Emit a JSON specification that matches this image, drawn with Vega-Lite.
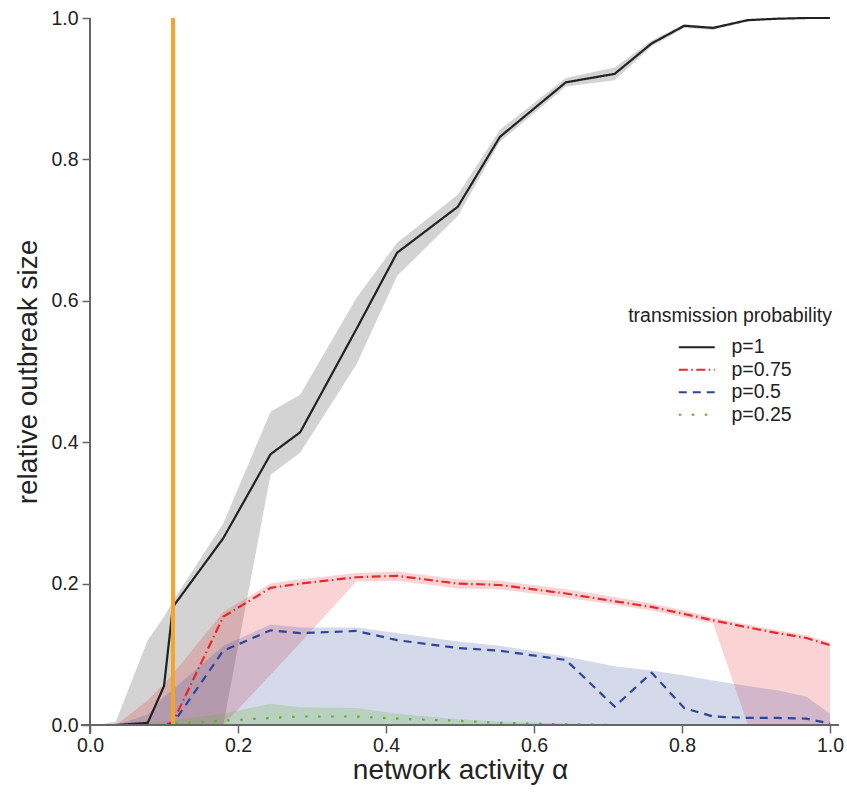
{
  "$schema": "https://vega.github.io/schema/vega-lite/v6.json",
  "width": 740,
  "height": 707,
  "autosize": "none",
  "padding": {"left": 90, "top": 18, "right": 17, "bottom": 68},
  "config": {
    "font": "Liberation Sans",
    "view": {"stroke": null},
    "axis": {
      "domain": false,
      "grid": false,
      "tickSize": 8,
      "tickColor": "#666666",
      "tickWidth": 1.5,
      "labelFontSize": 19.5,
      "labelColor": "#222222",
      "labelFlush": false,
      "labelOverlap": false,
      "titleFontSize": 28,
      "titleFontWeight": "normal",
      "titleColor": "#222222"
    },
    "legend": {
      "titleFontSize": 19.5,
      "titleFontWeight": "normal",
      "titleColor": "#222222",
      "titleAnchor": "middle",
      "titlePadding": 11,
      "titleLimit": 400,
      "labelFontSize": 19.5,
      "labelColor": "#222222",
      "labelOffset": 25,
      "symbolType": "M-2.5,0H2.5",
      "symbolSize": 207,
      "symbolStrokeWidth": 2.2,
      "symbolOffset": 18,
      "rowPadding": 1.5
    }
  },
  "data": {
    "values": [
      {"x": 0.01, "series": "p=1", "y": 0, "lo": 0, "hi": 0},
      {"x": 0.035, "series": "p=1", "y": 0, "lo": 0, "hi": 0.005},
      {"x": 0.078, "series": "p=1", "y": 0.003, "lo": 0, "hi": 0.12},
      {"x": 0.1, "series": "p=1", "y": 0.055, "lo": 0, "hi": 0.153},
      {"x": 0.112, "series": "p=1", "y": 0.167, "lo": 0, "hi": 0.175},
      {"x": 0.18, "series": "p=1", "y": 0.264, "lo": 0, "hi": 0.285},
      {"x": 0.244, "series": "p=1", "y": 0.383, "lo": 0.354, "hi": 0.443},
      {"x": 0.284, "series": "p=1", "y": 0.414, "lo": 0.385, "hi": 0.467},
      {"x": 0.36, "series": "p=1", "y": 0.56, "lo": 0.51, "hi": 0.604},
      {"x": 0.415, "series": "p=1", "y": 0.668, "lo": 0.635, "hi": 0.682},
      {"x": 0.497, "series": "p=1", "y": 0.733, "lo": 0.72, "hi": 0.75},
      {"x": 0.554, "series": "p=1", "y": 0.832, "lo": 0.825, "hi": 0.842},
      {"x": 0.643, "series": "p=1", "y": 0.909, "lo": 0.903, "hi": 0.915},
      {"x": 0.709, "series": "p=1", "y": 0.921, "lo": 0.912, "hi": 0.93},
      {"x": 0.759, "series": "p=1", "y": 0.964, "lo": 0.96, "hi": 0.968},
      {"x": 0.803, "series": "p=1", "y": 0.989, "lo": 0.986, "hi": 0.991},
      {"x": 0.842, "series": "p=1", "y": 0.986, "lo": 0.983, "hi": 0.988},
      {"x": 0.889, "series": "p=1", "y": 0.997, "lo": 0.995, "hi": 0.998},
      {"x": 0.929, "series": "p=1", "y": 0.999, "lo": 0.998, "hi": 1},
      {"x": 0.968, "series": "p=1", "y": 1, "lo": 1, "hi": 1},
      {"x": 1.0, "series": "p=1", "y": 1, "lo": 1, "hi": 1},

      {"x": 0.01, "series": "p=0.75", "y": 0, "lo": 0, "hi": 0},
      {"x": 0.035, "series": "p=0.75", "y": 0, "lo": 0, "hi": 0},
      {"x": 0.078, "series": "p=0.75", "y": 0, "lo": 0, "hi": 0.035},
      {"x": 0.1, "series": "p=0.75", "y": 0, "lo": 0, "hi": 0.058},
      {"x": 0.112, "series": "p=0.75", "y": 0.004, "lo": 0, "hi": 0.072},
      {"x": 0.18, "series": "p=0.75", "y": 0.153, "lo": 0, "hi": 0.16},
      {"x": 0.244, "series": "p=0.75", "y": 0.194, "lo": 0.071, "hi": 0.2},
      {"x": 0.284, "series": "p=0.75", "y": 0.2, "lo": 0.116, "hi": 0.206},
      {"x": 0.36, "series": "p=0.75", "y": 0.209, "lo": 0.203, "hi": 0.215},
      {"x": 0.415, "series": "p=0.75", "y": 0.211, "lo": 0.204, "hi": 0.217},
      {"x": 0.497, "series": "p=0.75", "y": 0.2, "lo": 0.193, "hi": 0.206},
      {"x": 0.554, "series": "p=0.75", "y": 0.198, "lo": 0.192, "hi": 0.204},
      {"x": 0.643, "series": "p=0.75", "y": 0.186, "lo": 0.18, "hi": 0.192},
      {"x": 0.709, "series": "p=0.75", "y": 0.175, "lo": 0.17, "hi": 0.181},
      {"x": 0.759, "series": "p=0.75", "y": 0.167, "lo": 0.162, "hi": 0.172},
      {"x": 0.803, "series": "p=0.75", "y": 0.157, "lo": 0.152, "hi": 0.162},
      {"x": 0.842, "series": "p=0.75", "y": 0.148, "lo": 0.144, "hi": 0.152},
      {"x": 0.889, "series": "p=0.75", "y": 0.138, "lo": 0, "hi": 0.142},
      {"x": 0.929, "series": "p=0.75", "y": 0.13, "lo": 0, "hi": 0.134},
      {"x": 0.968, "series": "p=0.75", "y": 0.123, "lo": 0, "hi": 0.127},
      {"x": 1.0, "series": "p=0.75", "y": 0.113, "lo": 0, "hi": 0.117},

      {"x": 0.01, "series": "p=0.5", "y": 0, "lo": 0, "hi": 0},
      {"x": 0.035, "series": "p=0.5", "y": 0, "lo": 0, "hi": 0},
      {"x": 0.078, "series": "p=0.5", "y": 0, "lo": 0, "hi": 0.015},
      {"x": 0.1, "series": "p=0.5", "y": 0, "lo": 0, "hi": 0.04},
      {"x": 0.112, "series": "p=0.5", "y": 0.002, "lo": 0, "hi": 0.05},
      {"x": 0.18, "series": "p=0.5", "y": 0.105, "lo": 0, "hi": 0.112},
      {"x": 0.244, "series": "p=0.5", "y": 0.134, "lo": 0, "hi": 0.142},
      {"x": 0.284, "series": "p=0.5", "y": 0.13, "lo": 0, "hi": 0.138},
      {"x": 0.36, "series": "p=0.5", "y": 0.133, "lo": 0, "hi": 0.138},
      {"x": 0.415, "series": "p=0.5", "y": 0.12, "lo": 0, "hi": 0.13},
      {"x": 0.497, "series": "p=0.5", "y": 0.109, "lo": 0, "hi": 0.118},
      {"x": 0.554, "series": "p=0.5", "y": 0.105, "lo": 0, "hi": 0.112},
      {"x": 0.643, "series": "p=0.5", "y": 0.092, "lo": 0, "hi": 0.097},
      {"x": 0.709, "series": "p=0.5", "y": 0.026, "lo": 0, "hi": 0.083},
      {"x": 0.759, "series": "p=0.5", "y": 0.074, "lo": 0, "hi": 0.077},
      {"x": 0.803, "series": "p=0.5", "y": 0.024, "lo": 0, "hi": 0.07},
      {"x": 0.842, "series": "p=0.5", "y": 0.012, "lo": 0, "hi": 0.063},
      {"x": 0.889, "series": "p=0.5", "y": 0.01, "lo": 0, "hi": 0.055},
      {"x": 0.929, "series": "p=0.5", "y": 0.01, "lo": 0, "hi": 0.049},
      {"x": 0.968, "series": "p=0.5", "y": 0.009, "lo": 0, "hi": 0.04},
      {"x": 1.0, "series": "p=0.5", "y": 0.002, "lo": 0, "hi": 0.016},

      {"x": 0.01, "series": "p=0.25", "y": 0, "lo": 0, "hi": 0},
      {"x": 0.035, "series": "p=0.25", "y": 0, "lo": 0, "hi": 0},
      {"x": 0.078, "series": "p=0.25", "y": 0, "lo": 0, "hi": 0.003},
      {"x": 0.1, "series": "p=0.25", "y": 0, "lo": 0, "hi": 0.005},
      {"x": 0.112, "series": "p=0.25", "y": 0.002, "lo": 0, "hi": 0.007},
      {"x": 0.18, "series": "p=0.25", "y": 0.006, "lo": 0, "hi": 0.016},
      {"x": 0.244, "series": "p=0.25", "y": 0.01, "lo": 0, "hi": 0.03},
      {"x": 0.284, "series": "p=0.25", "y": 0.012, "lo": 0, "hi": 0.025},
      {"x": 0.36, "series": "p=0.25", "y": 0.012, "lo": 0, "hi": 0.024},
      {"x": 0.415, "series": "p=0.25", "y": 0.009, "lo": 0, "hi": 0.016},
      {"x": 0.497, "series": "p=0.25", "y": 0.006, "lo": 0, "hi": 0.008},
      {"x": 0.554, "series": "p=0.25", "y": 0.003, "lo": 0, "hi": 0.005},
      {"x": 0.643, "series": "p=0.25", "y": 0.001, "lo": 0, "hi": 0.002},
      {"x": 0.709, "series": "p=0.25", "y": 0, "lo": 0, "hi": 0.001},
      {"x": 0.759, "series": "p=0.25", "y": 0, "lo": 0, "hi": 0.001},
      {"x": 0.803, "series": "p=0.25", "y": 0, "lo": 0, "hi": 0.001},
      {"x": 0.842, "series": "p=0.25", "y": 0, "lo": 0, "hi": 0.001},
      {"x": 0.889, "series": "p=0.25", "y": 0, "lo": 0, "hi": 0.001},
      {"x": 0.929, "series": "p=0.25", "y": 0, "lo": 0, "hi": 0.001},
      {"x": 0.968, "series": "p=0.25", "y": 0, "lo": 0, "hi": 0.001},
      {"x": 1.0, "series": "p=0.25", "y": 0, "lo": 0, "hi": 0.001}
    ]
  },
  "encoding": {
    "x": {
      "field": "x", "type": "quantitative",
      "scale": {"domain": [0, 1], "nice": false, "zero": false},
      "axis": {"title": "network activity α", "values": [0, 0.2, 0.4, 0.6, 0.8, 1.0], "format": ".1f", "labelPadding": 3, "titlePadding": 2}
    }
  },
  "layer": [
    {
      "transform": [{"filter": "datum.series === 'p=1'"}],
      "mark": {"type": "area", "color": "#222222", "fillOpacity": 0.2},
      "encoding": {
        "y": {
          "field": "lo", "type": "quantitative",
          "scale": {"domain": [0, 1], "nice": false},
          "axis": {"title": "relative outbreak size", "values": [0, 0.2, 0.4, 0.6, 0.8, 1.0], "format": ".1f", "labelPadding": 4, "titlePadding": 8}
        },
        "y2": {"field": "hi"}
      }
    },
    {
      "transform": [{"filter": "datum.series === 'p=0.75'"}],
      "mark": {"type": "area", "color": "#e8292b", "fillOpacity": 0.2},
      "encoding": {"y": {"field": "lo", "type": "quantitative"}, "y2": {"field": "hi"}}
    },
    {
      "transform": [{"filter": "datum.series === 'p=0.5'"}],
      "mark": {"type": "area", "color": "#2e4699", "fillOpacity": 0.2},
      "encoding": {"y": {"field": "lo", "type": "quantitative"}, "y2": {"field": "hi"}}
    },
    {
      "transform": [{"filter": "datum.series === 'p=0.25'"}],
      "mark": {"type": "area", "color": "#5cb034", "fillOpacity": 0.22},
      "encoding": {"y": {"field": "lo", "type": "quantitative"}, "y2": {"field": "hi"}}
    },
    {
      "mark": {"type": "line", "strokeWidth": 2.2},
      "encoding": {
        "y": {"field": "y", "type": "quantitative"},
        "color": {
          "field": "series", "type": "nominal",
          "scale": {"domain": ["p=1", "p=0.75", "p=0.5", "p=0.25"], "range": ["#222222", "#e8292b", "#2e4699", "#5cb034"]},
          "legend": {"title": "transmission probability", "orient": "none", "legendX": 538, "legendY": 289}
        },
        "strokeDash": {
          "field": "series", "type": "nominal",
          "scale": {"domain": ["p=1", "p=0.75", "p=0.5", "p=0.25"], "range": [[1, 0], [9, 3.5, 1.5, 3.5], [8, 6], [2.5, 10.5]]},
          "legend": {"title": "transmission probability", "orient": "none", "legendX": 538, "legendY": 289}
        }
      }
    },
    {
      "mark": {"type": "rule", "color": "#f5a52a", "strokeWidth": 3},
      "encoding": {"x": {"datum": 0.112}, "y": {"datum": 0}, "y2": {"datum": 1}}
    },
    {
      "mark": {"type": "rule", "color": "#666666", "strokeWidth": 1.5},
      "encoding": {"x": {"datum": -0.012}, "x2": {"datum": 1.012}, "y": {"datum": 0}}
    },
    {
      "mark": {"type": "rule", "color": "#666666", "strokeWidth": 1.5},
      "encoding": {"x": {"datum": 0}, "y": {"datum": -0.012}, "y2": {"datum": 1}}
    }
  ]
}
